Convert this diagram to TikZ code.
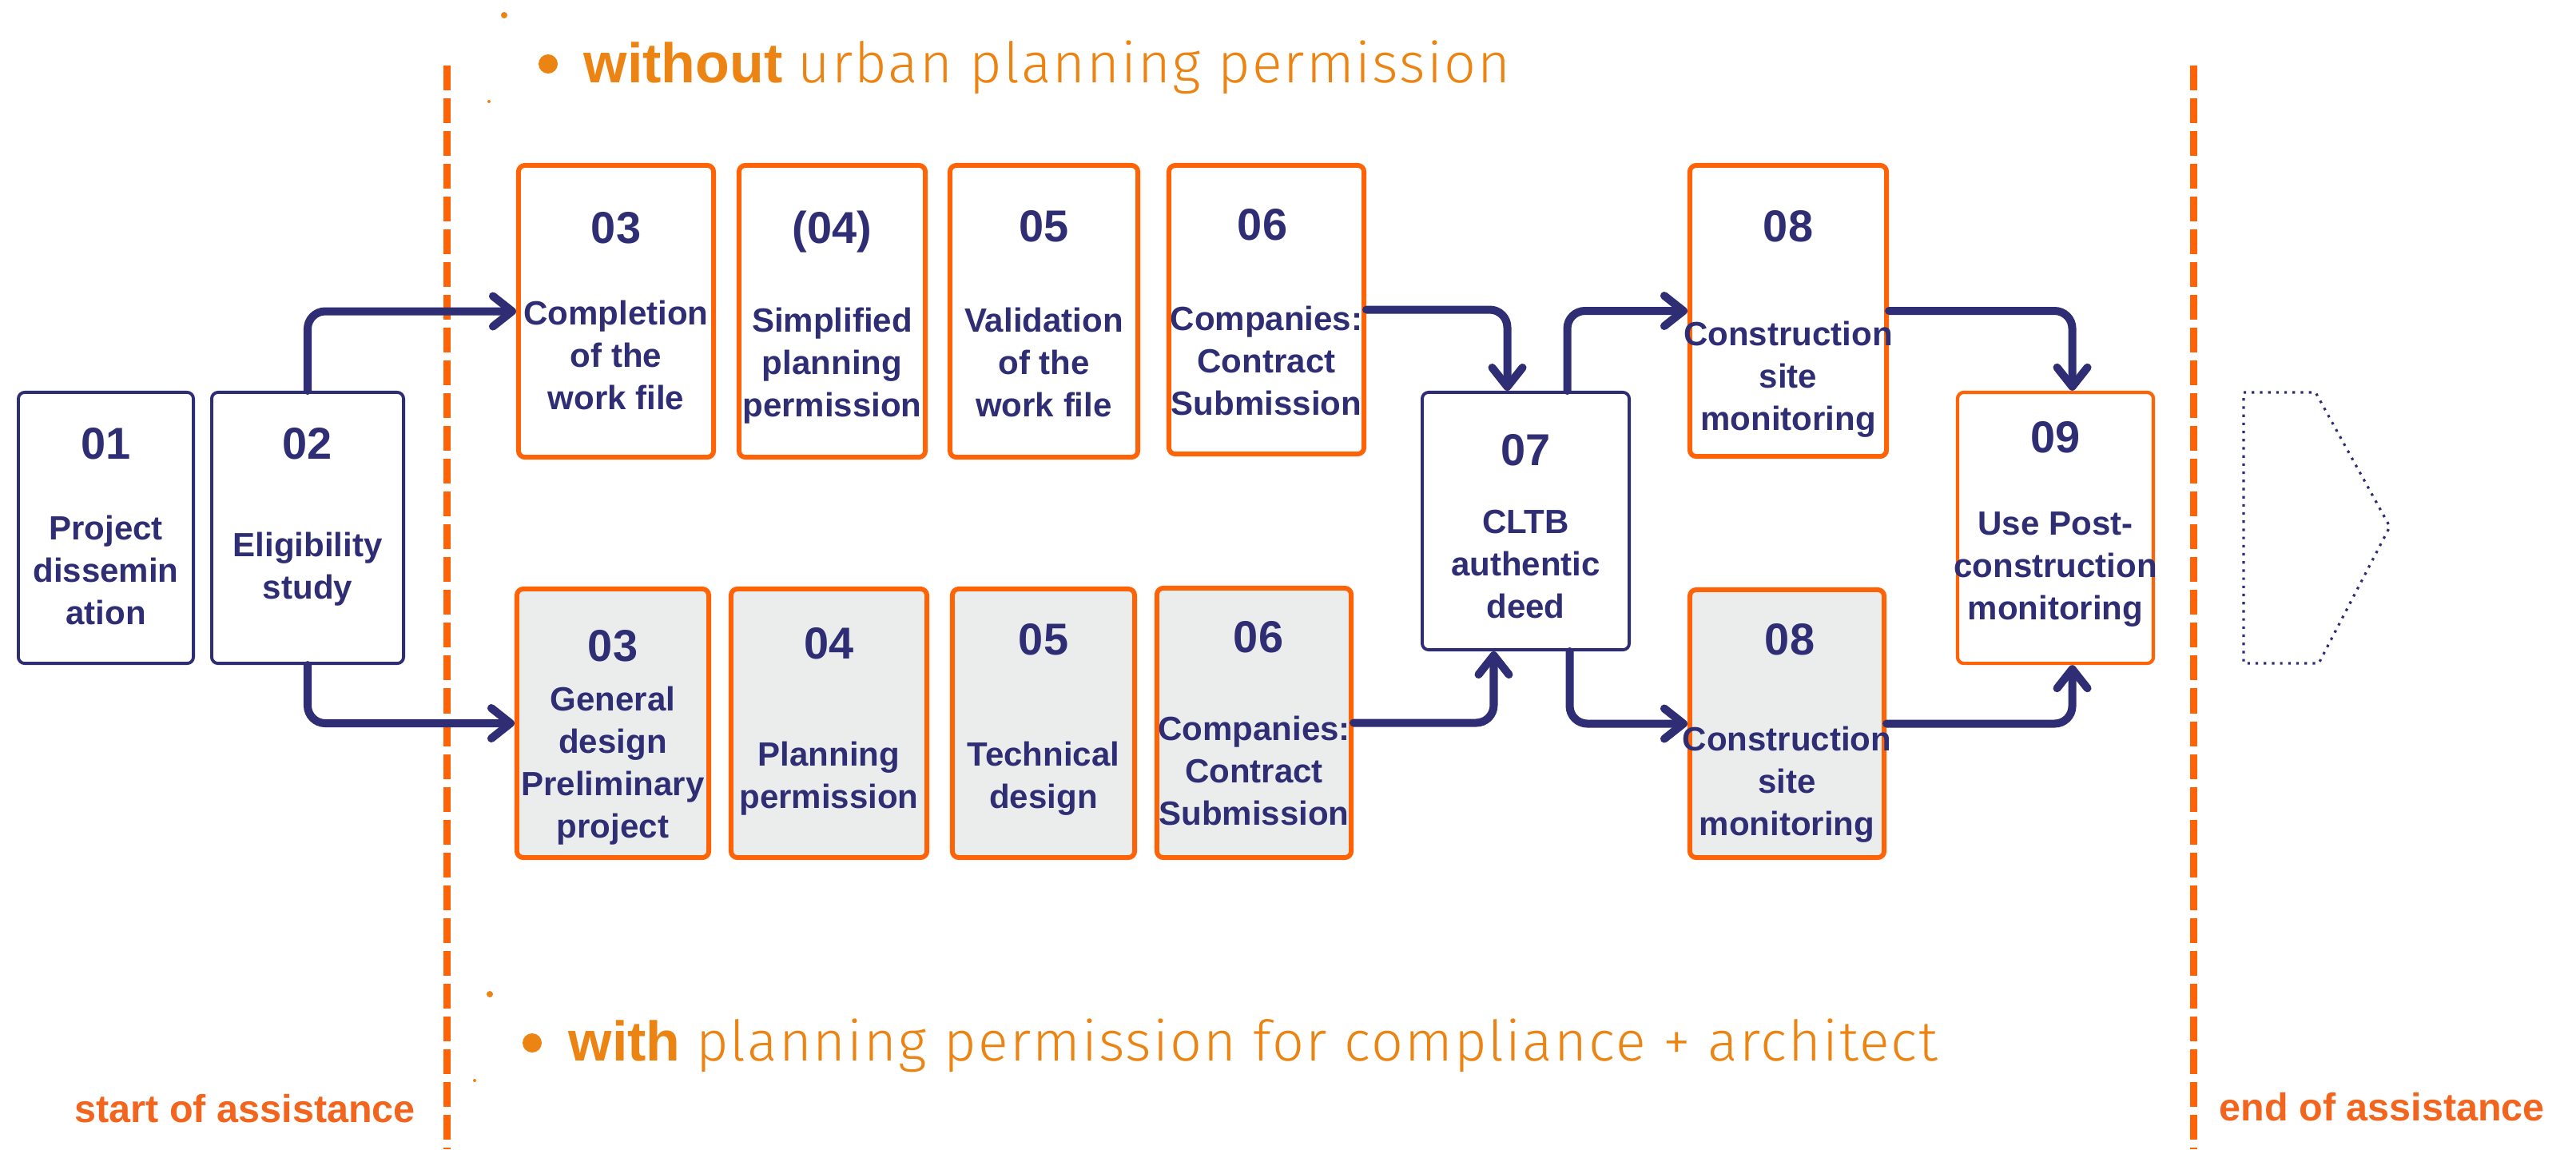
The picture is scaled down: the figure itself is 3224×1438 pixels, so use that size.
\documentclass[tikz,border=0pt]{standalone}
\usepackage{fontspec}
\setmainfont{Liberation Sans}
\newfontfamily\lightfont{Fira Sans Light}[LetterSpace=3]
\usetikzlibrary{arrows.meta}
\definecolor{navy}{HTML}{2F2D74}
\definecolor{orangeB}{HTML}{FF6308}
\definecolor{orangeT}{HTML}{EC8413}
\definecolor{orangeS}{HTML}{F2651E}
\definecolor{greyF}{HTML}{EBEDEC}
\newcommand{\mlines}[1]{\begin{tabular}[t]{@{}c@{}}#1\end{tabular}}
\tikzset{
  nbox/.style={draw=navy, line width=1.1pt, rounded corners=0.08cm, fill=white, inner sep=0pt},
  obox/.style={draw=orangeB, line width=1.7pt, rounded corners=0.08cm, fill=white, inner sep=0pt},
  gbox/.style={obox, fill=greyF},
  numtxt/.style={anchor=base, inner sep=0pt, text=navy, font=\fontsize{15.9pt}{19pt}\selectfont\bfseries},
  lbl/.style={anchor=base, inner sep=0pt, text=navy, font=\fontsize{11.95pt}{15.08pt}\selectfont\bfseries},
  flow/.style={draw=navy, line width=2.85pt, rounded corners=0.22cm, line cap=round,
    -{Straight Barb[round, length=2.4mm, width=3.8mm]}},
  limit/.style={draw=orangeB, line width=0.09cm, dash pattern=on 0.31cm off 0.1cm},
  assist/.style={anchor=base west, inner sep=0pt, text=orangeS, font=\fontsize{13.8pt}{16pt}\selectfont\bfseries},
  heading/.style={anchor=base west, inner sep=0pt, text=orangeT, font=\fontsize{19.9pt}{24pt}\selectfont},
}
\begin{document}
\begin{tikzpicture}[x=0.01cm, y=-0.01cm]
\fill[white] (0,0) rectangle (3224,1438);
\useasboundingbox (0,0) rectangle (3224,1438);

% assistance limits
\draw[limit] (559,82) -- (559,1438);
\draw[limit] (2745,82) -- (2745,1438);

% headings
\fill[orangeT] (686,80) circle[radius=0.12cm];
\node[heading] (htop) at (730,103) {\textbf{without} {\lightfont urban planning permission}};
\fill[orangeT] (666,1305) circle[radius=0.12cm];
\node[heading] (hbot) at (711,1327) {\textbf{with} {\lightfont planning permission for compliance + architect}};
\fill[orangeT] (631,19) circle[radius=0.04cm];
\fill[orangeT] (612,127) circle[radius=0.02cm];
\fill[orangeT] (613,1244) circle[radius=0.04cm];
\fill[orangeT] (594,1352) circle[radius=0.02cm];

\node[assist] (start) at (93,1404) {start of assistance};
\node[assist] (end) at (2777,1402) {end of assistance};

% boxes
\node[nbox, minimum width=2.19cm, minimum height=3.39cm] (b01) at (132.5,660.5) {};
\node[nbox, minimum width=2.40cm, minimum height=3.39cm] (b02) at (385,660.5) {};
\node[obox, minimum width=2.44cm, minimum height=3.65cm] (t03) at (771,389.5) {};
\node[obox, minimum width=2.33cm, minimum height=3.65cm] (t04) at (1041.5,389.5) {};
\node[obox, minimum width=2.35cm, minimum height=3.65cm] (t05) at (1306.5,389.5) {};
\node[obox, minimum width=2.44cm, minimum height=3.61cm] (t06) at (1585,387.5) {};
\node[obox, minimum width=2.46cm, minimum height=3.64cm] (t08) at (2238,389) {};
\node[nbox, minimum width=2.59cm, minimum height=3.22cm] (b07) at (1909.5,652) {};
\node[obox, line width=1.2pt, minimum width=2.45cm, minimum height=3.39cm] (b09) at (2572.5,660.5) {};
\node[gbox, minimum width=2.40cm, minimum height=3.36cm] (u03) at (767,905) {};
\node[gbox, minimum width=2.45cm, minimum height=3.36cm] (u04) at (1037.5,905) {};
\node[gbox, minimum width=2.28cm, minimum height=3.36cm] (u05) at (1306,905) {};
\node[gbox, minimum width=2.43cm, minimum height=3.37cm] (u06) at (1569.5,904.5) {};
\node[gbox, minimum width=2.43cm, minimum height=3.35cm] (u08) at (2236.5,905.5) {};

% texts
\node[numtxt] (n01) at (132.5,574) {01};
\node[lbl] (l01) at (132.5,675) {\mlines{Project\\dissemin\\ation}};
\node[numtxt] (n02) at (385,574) {02};
\node[lbl] (l02) at (385,696) {\mlines{Eligibility\\study}};

\node[numtxt] (nt03) at (771,304) {03};
\node[lbl] (lt03) at (771,406) {\mlines{Completion\\of the\\work file}};
\node[numtxt] (nt04) at (1041.5,304) {(04)};
\node[lbl] (lt04) at (1041.5,415) {\mlines{Simplified\\planning\\permission}};
\node[numtxt] (nt05) at (1306.5,302) {05};
\node[lbl] (lt05) at (1306.5,415) {\mlines{Validation\\of the\\work file}};
\node[numtxt] (nt06) at (1580,300) {06};
\node[lbl] (lt06) at (1585,413) {\mlines{Companies:\\Contract\\Submission}};
\node[numtxt] (nt08) at (2238,302) {08};
\node[lbl] (lt08) at (2238,432) {\mlines{Construction\\site\\monitoring}};

\node[numtxt] (n07) at (1909.5,582) {07};
\node[lbl] (l07) at (1909.5,667) {\mlines{CLTB\\authentic\\deed}};
\node[numtxt] (n09) at (2572.5,566) {09};
\node[lbl] (l09) at (2572.5,669) {\mlines{Use Post-\\construction\\monitoring}};

\node[numtxt] (nu03) at (767,827) {03};
\node[lbl] (lu03) at (767,889) {\mlines{General\\design\\Preliminary\\project}};
\node[numtxt] (nu04) at (1037.5,824) {04};
\node[lbl] (lu04) at (1037.5,958) {\mlines{Planning\\permission}};
\node[numtxt] (nu05) at (1306,819) {05};
\node[lbl] (lu05) at (1306,958) {\mlines{Technical\\design}};
\node[numtxt] (nu06) at (1575,816) {06};
\node[lbl] (lu06) at (1569.5,926) {\mlines{Companies:\\Contract\\Submission}};
\node[numtxt] (nu08) at (2240,819) {08};
\node[lbl] (lu08) at (2236.5,939) {\mlines{Construction\\site\\monitoring}};

% dotted continuation shape
\draw[navy, line width=0.9pt, dotted] (2808,491) -- (2898,491) -- (2991,659) -- (2902,830) -- (2808,830) -- cycle;

% connectors
\draw[flow] (b02.north) |- (t03.west);
\draw[flow] (b02.south) |- (u03.west);
\draw[flow] (t06.east) -| ([xshift=-0.23cm]b07.north);
\draw[flow] ([xshift=0.52cm]b07.north) |- (t08.west);
\draw[flow] (t08.east) -| ([xshift=0.21cm]b09.north);
\draw[flow] (u06.east) -| ([xshift=-0.40cm]b07.south);
\draw[flow] ([xshift=0.55cm]b07.south) |- (u08.west);
\draw[flow] (u08.east) -| ([xshift=0.21cm]b09.south);
\end{tikzpicture}
\end{document}
